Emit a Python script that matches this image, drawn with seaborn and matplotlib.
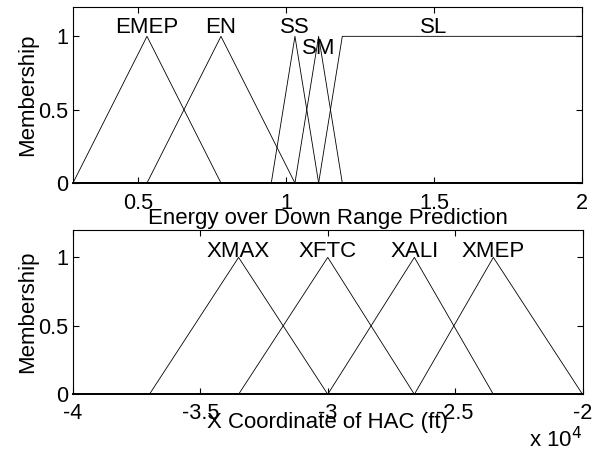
import matplotlib
matplotlib.use("Agg")
import matplotlib.pyplot as plt
import seaborn as sns
import pandas as pd

# ---- Energy over Down Range Prediction (input 1) ----
energy_range = [0.28, 2.0]
energy_names = ["EMEP", "EN", "SS", "SM", "SL"]
energy_params = [
    [0.28, 0.53, 0.78],          # triangular
    [0.53, 0.78, 1.03],
    [0.95, 1.03, 1.11],
    [1.03, 1.11, 1.19],
    [1.11, 1.19, 2.0, 2.0],      # trapezoidal
]
energy_label_x = [0.53, 0.78, 1.03, 1.11, 1.5]
energy_label_y = [1.02, 1.02, 1.02, 0.88, 1.02]
energy_ticks = [0.5, 1.0, 1.5, 2.0]
energy_ticklabels = ["0.5", "1", "1.5", "2"]

# ---- X Coordinate of HAC (input 2) ----
hac_range = [-40000, -20000]
hac_names = ["XMAX", "XFTC", "XALI", "XMEP"]
hac_params = [
    [-37000, -33500, -30000],
    [-33500, -30000, -26600],
    [-30000, -26600, -23500],
    [-26600, -23500, -20000],
]
hac_label_x = [-33500, -30000, -26600, -23500]
hac_label_y = [1.0, 1.0, 1.0, 1.0]
hac_ticks = [-40000, -35000, -30000, -25000, -20000]
hac_ticklabels = ["-4", "-3.5", "-3", "-2.5", "-2"]

membership_ticks = [0, 0.5, 1]
membership_ticklabels = ["0", "0.5", "1"]

sns.set_style("ticks")
plt.rcParams["font.family"] = ["Liberation Sans", "DejaVu Sans"]

FS = 16      # labels and MF names
FS_TICK = 15.6


def mf_frame(name, params, lo, hi):
    """Breakpoints of a triangular / trapezoidal membership function."""
    if len(params) == 3:
        a, b, c = params
        xs = [lo, a, b, c, hi]
        ys = [0, 0, 1, 0, 0]
    else:
        a, b, c, d = params
        xs = [lo, a, b, c, d, hi]
        ys = [0, 0, 1, 1, 0 if d < hi else 1, 0 if d < hi else 1]
    return pd.DataFrame({"x": xs, "mu": ys, "mf": name})


def draw_panel(ax, names, params, rng, lab_x, lab_y, ticks, ticklabels, xlabel, pad):
    df = pd.concat([mf_frame(n, p, rng[0], rng[1]) for n, p in zip(names, params)],
                   ignore_index=True)
    for n in names:
        sub = df[df["mf"] == n]
        sns.lineplot(data=sub, x="x", y="mu", ax=ax, color="black", lw=0.6,
                     sort=False, estimator=None, legend=False)
    for n, tx, ty in zip(names, lab_x, lab_y):
        ax.text(tx, ty, n, ha="center", va="baseline", fontsize=FS, color="black")
    ax.set_xlim(rng)
    ax.set_ylim(0, 1.2)
    ax.set_xticks(ticks)
    ax.set_xticklabels(ticklabels)
    ax.set_yticks(membership_ticks)
    ax.set_yticklabels(membership_ticklabels)
    ax.tick_params(axis="both", direction="in", top=True, right=True, length=4,
                   width=0.8, colors="black", labelsize=FS_TICK)
    ax.tick_params(axis="x", pad=pad)
    ax.tick_params(axis="y", pad=3.4)
    for s in ax.spines.values():
        s.set_visible(True)
        s.set_color("black")
        s.set_linewidth(0.8)
    ax.spines["bottom"].set_linewidth(1.4)
    ax.set_xlabel(xlabel, fontsize=FS, color="black")
    ax.set_ylabel("Membership", fontsize=FS, color="black")


fig = plt.figure(figsize=(5.95, 4.51), dpi=100)
W, H = 595, 451
ax1 = fig.add_axes([73 / W, (H - 183) / H, 509 / W, 176 / H])
ax2 = fig.add_axes([73 / W, (H - 394.3) / H, 509.5 / W, 164.3 / H])

draw_panel(ax1, energy_names, energy_params, energy_range, energy_label_x,
           energy_label_y, energy_ticks, energy_ticklabels,
           "Energy over Down Range Prediction", 7.0)
draw_panel(ax2, hac_names, hac_params, hac_range, hac_label_x,
           hac_label_y, hac_ticks, hac_ticklabels,
           "X Coordinate of HAC (ft)", 6.3)

ax1.xaxis.set_label_coords(0.5, -0.142)
ax2.xaxis.set_label_coords(0.5, -0.106)
ax1.yaxis.set_label_coords(-0.069, 0.5)
ax2.yaxis.set_label_coords(-0.069, 0.5)

# exponent of the HAC axis
ax2.text(1.0, (394.3 - 447) / 164.3, r"x 10$^{4}$", transform=ax2.transAxes,
         ha="right", va="baseline", fontsize=FS, color="black")

fig.savefig("out.png", dpi=100)
